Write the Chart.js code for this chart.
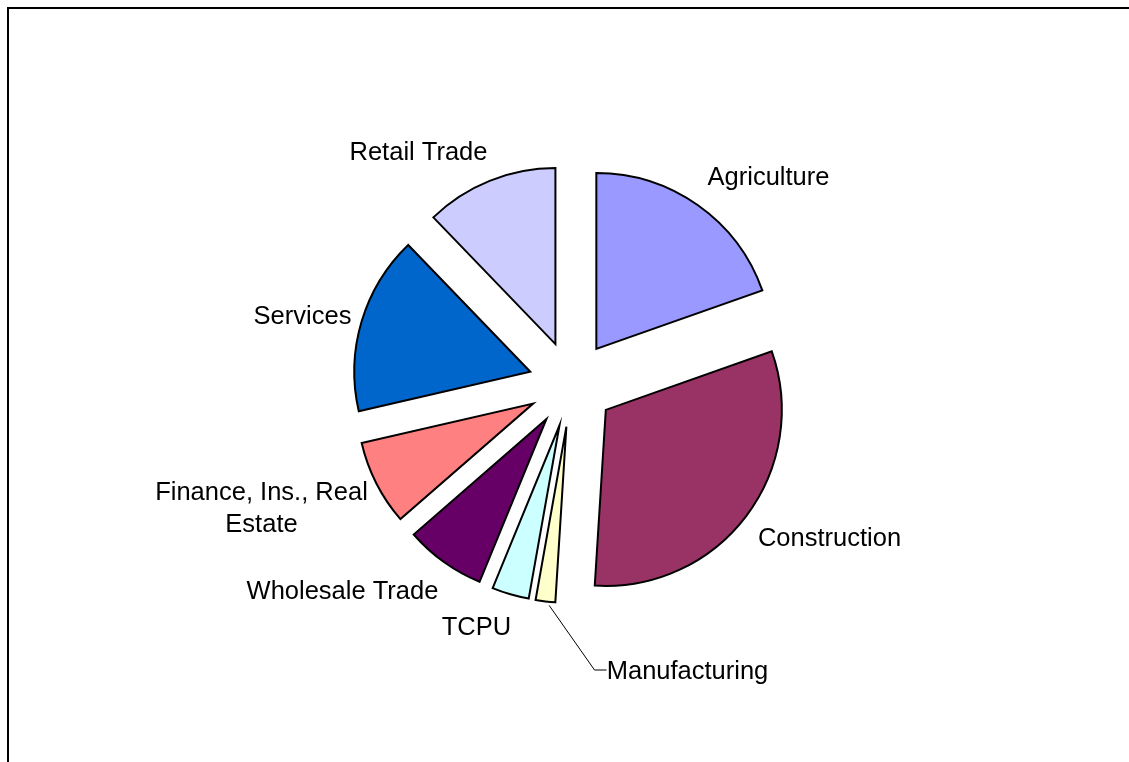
<!DOCTYPE html>
<html>
<head>
<meta charset="utf-8">
<title>Employment by Industry</title>
<script src="https://cdn.jsdelivr.net/npm/chart.js@4.4.1/dist/chart.umd.min.js"></script>
<style>
  html, body { margin: 0; padding: 0; background: #fff; overflow: hidden; }
  #wrap { position: relative; width: 1129px; height: 762px; }
  #frame {
    position: absolute; left: 7px; top: 7px; right: -10px; bottom: -10px;
    border-left: 2px solid #000; border-top: 2px solid #000;
    pointer-events: none;
  }
  canvas { position: absolute; left: 0; top: 0; }
</style>
</head>
<body>
<div id="wrap">
  <canvas id="chart" width="1129" height="762"></canvas>
  <div id="frame"></div>
</div>
<script>
// Industry shares (percent), clockwise from 12 o'clock
const industries = [
  'Agriculture',
  'Construction',
  'Manufacturing',
  'TCPU',
  'Wholesale Trade',
  ['Finance, Ins., Real', 'Estate'],
  'Services',
  'Retail Trade'
];
const shares = [19.6, 31.4, 1.8, 3.4, 7.4, 7.8, 16.4, 12.2];
const sliceColors = [
  '#9999FF', '#993366', '#FFFFCC', '#CCFFFF',
  '#660066', '#FF8080', '#0066CC', '#CCCCFF'
];

// Label anchor offsets from the pie centre (text centre)
const labelOffsets = [
  [197, -206], [258, 155], [116, 288], [-95, 244],
  [-229, 208], [-310, 109], [-269, -67], [-153, -231]
];

// Each slice is pulled out along its bisector by this many pixels
const explodeDistance = 43;

const explodedSlices = {
  id: 'explodedSlices',
  beforeDatasetDraw(chart, args) {
    const ctx = chart.ctx;
    args.meta.data.forEach(arc => {
      const mid = (arc.startAngle + arc.endAngle) / 2;
      ctx.save();
      ctx.translate(Math.cos(mid) * explodeDistance, Math.sin(mid) * explodeDistance);
      arc.draw(ctx);
      ctx.restore();
    });
    return false;
  }
};

const sliceLabels = {
  id: 'sliceLabels',
  afterDatasetsDraw(chart) {
    const ctx = chart.ctx;
    const arcs = chart.getDatasetMeta(0).data;
    const cx = arcs[0].x, cy = arcs[0].y;
    ctx.save();
    ctx.fillStyle = '#000';
    ctx.font = '25.5px "Liberation Sans", Arial, sans-serif';
    ctx.textAlign = 'center';
    ctx.textBaseline = 'middle';
    const lineH = 32;
    chart.data.labels.forEach((lab, i) => {
      const [dx, dy] = labelOffsets[i];
      const lines = Array.isArray(lab) ? lab : [lab];
      lines.forEach((t, k) => ctx.fillText(t, cx + dx, cy + dy + k * lineH));
    });

    // leader line from the thin Manufacturing slice to its label
    const m = arcs[2];
    const mid = (m.startAngle + m.endAngle) / 2;
    const r = m.outerRadius + explodeDistance + 2;
    const sx = cx + Math.cos(mid) * r + 4, sy = cy + Math.sin(mid) * r + 2;
    const [ldx, ldy] = labelOffsets[2];
    ctx.strokeStyle = '#000';
    ctx.lineWidth = 1;
    ctx.beginPath();
    ctx.moveTo(sx, sy);
    ctx.lineTo(cx + ldx - 93, cy + ldy - 2);
    ctx.lineTo(cx + ldx - 81, cy + ldy - 2);
    ctx.stroke();
    ctx.restore();
  }
};

new Chart(document.getElementById('chart'), {
  type: 'pie',
  data: {
    labels: industries,
    datasets: [{
      data: shares,
      backgroundColor: sliceColors,
      borderColor: '#000',
      borderWidth: 2,
      borderJoinStyle: 'miter',
      radius: 176
    }]
  },
  options: {
    responsive: false,
    animation: false,
    devicePixelRatio: 1,
    layout: { padding: { left: 14, right: 0, top: 6, bottom: 0 } },
    plugins: {
      legend: { display: false },
      tooltip: { enabled: false }
    }
  },
  plugins: [explodedSlices, sliceLabels]
});
</script>
</body>
</html>
